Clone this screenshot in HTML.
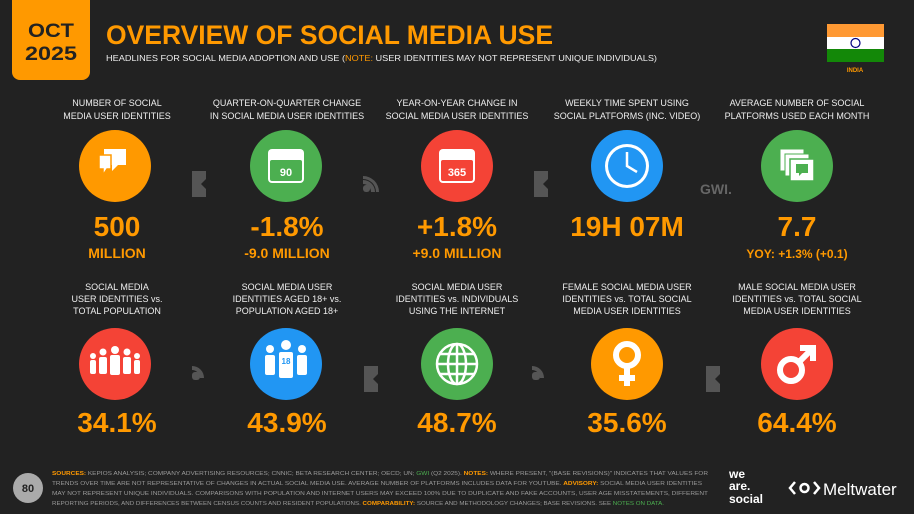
<!DOCTYPE html>
<html><head><meta charset="utf-8"><style>
html,body{margin:0;padding:0;background:#222;}
svg{display:block}
text{font-family:"Liberation Sans",sans-serif;}
</style></head><body>
<svg width="914" height="514" viewBox="0 0 914 514" xmlns="http://www.w3.org/2000/svg">
<rect width="914" height="514" fill="#222"/>
<!-- date box -->
<path d="M12 0 H90 V72 a8 8 0 0 1 -8 8 H20 a8 8 0 0 1 -8 -8 Z" fill="#FF9900"/>
<text x="51" y="37" text-anchor="middle" font-size="19" font-weight="bold" fill="#222" textLength="46" lengthAdjust="spacingAndGlyphs">OCT</text>
<text x="51" y="60" text-anchor="middle" font-size="19" font-weight="bold" fill="#222" textLength="52" lengthAdjust="spacingAndGlyphs">2025</text>
<text x="106" y="44" font-size="27" font-weight="bold" fill="#FF9900" textLength="447" lengthAdjust="spacingAndGlyphs">OVERVIEW OF SOCIAL MEDIA USE</text>
<text x="106" y="61" font-size="8.5" fill="#eee" textLength="551" lengthAdjust="spacingAndGlyphs">HEADLINES FOR SOCIAL MEDIA ADOPTION AND USE (<tspan fill="#FF9900">NOTE:</tspan> USER IDENTITIES MAY NOT REPRESENT UNIQUE INDIVIDUALS)</text>
<!-- flag -->
<rect x="827" y="24" width="57" height="13" fill="#FF9933"/>
<rect x="827" y="37" width="57" height="12" fill="#fff"/>
<rect x="827" y="49" width="57" height="13" fill="#138808"/>
<circle cx="855.5" cy="43" r="4.5" fill="none" stroke="#000080" stroke-width="1.2"/>
<text x="855" y="72" text-anchor="middle" font-size="6" font-weight="bold" fill="#FF9900">INDIA</text>

<g font-size="9" fill="#eee" text-anchor="middle">
<text x="117" y="106">NUMBER OF SOCIAL</text><text x="117" y="119">MEDIA USER IDENTITIES</text>
<text x="287" y="106">QUARTER-ON-QUARTER CHANGE</text><text x="287" y="119">IN SOCIAL MEDIA USER IDENTITIES</text>
<text x="457" y="106">YEAR-ON-YEAR CHANGE IN</text><text x="457" y="119">SOCIAL MEDIA USER IDENTITIES</text>
<text x="627" y="106">WEEKLY TIME SPENT USING</text><text x="627" y="119">SOCIAL PLATFORMS (INC. VIDEO)</text>
<text x="797" y="106">AVERAGE NUMBER OF SOCIAL</text><text x="797" y="119">PLATFORMS USED EACH MONTH</text>

<text x="117" y="290">SOCIAL MEDIA</text><text x="117" y="302">USER IDENTITIES vs.</text><text x="117" y="314">TOTAL POPULATION</text>
<text x="287" y="290">SOCIAL MEDIA USER</text><text x="287" y="302">IDENTITIES AGED 18+ vs.</text><text x="287" y="314">POPULATION AGED 18+</text>
<text x="457" y="290">SOCIAL MEDIA USER</text><text x="457" y="302">IDENTITIES vs. INDIVIDUALS</text><text x="457" y="314">USING THE INTERNET</text>
<text x="627" y="290">FEMALE SOCIAL MEDIA USER</text><text x="627" y="302">IDENTITIES vs. TOTAL SOCIAL</text><text x="627" y="314">MEDIA USER IDENTITIES</text>
<text x="797" y="290">MALE SOCIAL MEDIA USER</text><text x="797" y="302">IDENTITIES vs. TOTAL SOCIAL</text><text x="797" y="314">MEDIA USER IDENTITIES</text>
</g>

<!-- row1 circles -->
<circle cx="115" cy="166" r="36" fill="#FF9900"/>
<path d="M104 149 h22 v16 h-8 l-6 6 v-6 h-8z" fill="#fff"/>
<path d="M99 155 h12 v14 h-4 l-4 6 v-6 h-4z" fill="#fff" stroke="#FF9900" stroke-width="1.5"/>
<circle cx="286" cy="166" r="36" fill="#4CAF50"/>
<rect x="268" y="149" width="36" height="34" rx="4" fill="#fff"/><rect x="270" y="160" width="32" height="21" rx="2" fill="#4CAF50"/>
<text x="286" y="176" text-anchor="middle" font-size="11" font-weight="bold" fill="#fff">90</text>
<circle cx="457" cy="166" r="36" fill="#F44336"/>
<rect x="439" y="149" width="36" height="34" rx="4" fill="#fff"/><rect x="441" y="160" width="32" height="21" rx="2" fill="#F44336"/>
<text x="457" y="176" text-anchor="middle" font-size="11" font-weight="bold" fill="#fff">365</text>
<circle cx="627" cy="166" r="36" fill="#2196F3"/>
<circle cx="627" cy="166" r="22" fill="#fff"/><circle cx="627" cy="166" r="19" fill="#2196F3"/>
<path d="M627 152 V166 L637 172" stroke="#fff" stroke-width="2.5" fill="none"/>
<circle cx="797" cy="166" r="36" fill="#4CAF50"/>
<rect x="780" y="149" width="24" height="22" fill="#fff" stroke="#4CAF50"/><rect x="785" y="154" width="24" height="22" fill="#fff" stroke="#4CAF50"/><rect x="790" y="159" width="24" height="22" fill="#fff" stroke="#4CAF50" stroke-width="1.5"/>
<path d="M796 164 h12 v9 h-6 l-3 3 v-3 h-3z" fill="#4CAF50"/>

<!-- row2 circles -->
<circle cx="115" cy="364" r="36" fill="#F44336"/>
<g fill="#fff"><circle cx="115" cy="350" r="4"/><rect x="110" y="355" width="10" height="20" rx="2"/>
<circle cx="103" cy="352" r="3.5"/><rect x="99" y="357" width="8" height="17" rx="2"/>
<circle cx="127" cy="352" r="3.5"/><rect x="123" y="357" width="8" height="17" rx="2"/>
<circle cx="93" cy="356" r="3"/><rect x="90" y="360" width="6" height="14" rx="2"/>
<circle cx="137" cy="356" r="3"/><rect x="134" y="360" width="6" height="14" rx="2"/></g>
<circle cx="286" cy="364" r="36" fill="#2196F3"/>
<g fill="#fff"><circle cx="286" cy="345" r="5"/><rect x="279" y="352" width="14" height="26" rx="2"/>
<circle cx="270" cy="349" r="4"/><rect x="265" y="355" width="10" height="20" rx="2"/>
<circle cx="302" cy="349" r="4"/><rect x="297" y="355" width="10" height="20" rx="2"/></g>
<text x="286" y="364" text-anchor="middle" font-size="8" font-weight="bold" fill="#2196F3">18</text>
<circle cx="457" cy="364" r="36" fill="#4CAF50"/>
<g fill="none" stroke="#fff" stroke-width="2.5"><circle cx="457" cy="364" r="20"/><ellipse cx="457" cy="364" rx="9" ry="20"/><path d="M437 364h40M440 354h34M440 374h34M457 344v40"/></g>
<circle cx="627" cy="364" r="36" fill="#FF9900"/>
<g fill="none" stroke="#fff" stroke-width="6"><circle cx="627" cy="355" r="11"/><path d="M627 366v20M619 378h16"/></g>
<circle cx="797" cy="364" r="36" fill="#F44336"/>
<g fill="none" stroke="#fff" stroke-width="6"><circle cx="791" cy="370" r="11"/><path d="M799 362l12-12M800 348h13v13"/></g>

<!-- separators -->
<g fill="#555">
<path d="M192 171h14v8l-5 5 5 5v8h-14z"/><path d="M363 180a12 12 0 0 1 12 12h-4a8 8 0 0 0 -8-8z M363 176a16 16 0 0 1 16 16h-3a13 13 0 0 0 -13-13z"/><rect x="363" y="185" width="7" height="7" rx="3"/>
<path d="M534 171h14v8l-5 5 5 5v8h-14z"/>
<text x="716" y="194" text-anchor="middle" font-size="14" font-weight="bold" fill="#666">GWI.</text>
<path d="M192 366a12 12 0 0 1 12 12h-4a8 8 0 0 0 -8-8z"/><rect x="192" y="372" width="8" height="8" rx="3"/>
<path d="M364 366h14v8l-5 5 5 5v8h-14z"/>
<path d="M532 366a12 12 0 0 1 12 12h-4a8 8 0 0 0 -8-8z"/><rect x="532" y="372" width="8" height="8" rx="3"/>
<path d="M706 366h14v8l-5 5 5 5v8h-14z"/>
</g>

<!-- numbers -->
<g font-weight="bold" fill="#FF9900" text-anchor="middle">
<text x="117" y="236" font-size="28">500</text><text x="117" y="258" font-size="14">MILLION</text>
<text x="287" y="236" font-size="28">-1.8%</text><text x="287" y="258" font-size="14">-9.0 MILLION</text>
<text x="457" y="236" font-size="28">+1.8%</text><text x="457" y="258" font-size="14">+9.0 MILLION</text>
<text x="627" y="236" font-size="28">19H 07M</text>
<text x="797" y="236" font-size="28">7.7</text><text x="797" y="258" font-size="12">YOY: +1.3% (+0.1)</text>
<text x="117" y="432" font-size="28">34.1%</text>
<text x="287" y="432" font-size="28">43.9%</text>
<text x="457" y="432" font-size="28">48.7%</text>
<text x="627" y="432" font-size="28">35.6%</text>
<text x="797" y="432" font-size="28">64.4%</text>
</g>

<!-- footer -->
<circle cx="28" cy="488" r="15" fill="#aaa"/>
<text x="28" y="492" text-anchor="middle" font-size="11" font-weight="bold" fill="#222">80</text>
<g font-size="5.8" fill="#999">
<text x="52" y="475" textLength="656" lengthAdjust="spacingAndGlyphs"><tspan fill="#FF9900" font-weight="bold">SOURCES:</tspan> KEPIOS ANALYSIS; COMPANY ADVERTISING RESOURCES; CNNIC; BETA RESEARCH CENTER; OECD; UN; <tspan fill="#4CAF50">GWI</tspan> (Q2 2025). <tspan fill="#FF9900" font-weight="bold">NOTES:</tspan> WHERE PRESENT, "(BASE REVISIONS)" INDICATES THAT VALUES FOR</text>
<text x="52" y="485" textLength="650" lengthAdjust="spacingAndGlyphs">TRENDS OVER TIME ARE NOT REPRESENTATIVE OF CHANGES IN ACTUAL SOCIAL MEDIA USE. AVERAGE NUMBER OF PLATFORMS INCLUDES DATA FOR YOUTUBE. <tspan fill="#FF9900" font-weight="bold">ADVISORY:</tspan> SOCIAL MEDIA USER IDENTITIES</text>
<text x="52" y="495" textLength="656" lengthAdjust="spacingAndGlyphs">MAY NOT REPRESENT UNIQUE INDIVIDUALS. COMPARISONS WITH POPULATION AND INTERNET USERS MAY EXCEED 100% DUE TO DUPLICATE AND FAKE ACCOUNTS, USER AGE MISSTATEMENTS, DIFFERENT</text>
<text x="52" y="505" textLength="612" lengthAdjust="spacingAndGlyphs">REPORTING PERIODS, AND DIFFERENCES BETWEEN CENSUS COUNTS AND RESIDENT POPULATIONS. <tspan fill="#FF9900" font-weight="bold">COMPARABILITY:</tspan> SOURCE AND METHODOLOGY CHANGES; BASE REVISIONS. SEE <tspan fill="#4CAF50">NOTES ON DATA.</tspan></text>
</g>
<g font-weight="bold" fill="#fff" font-size="12">
<text x="729" y="478">we</text><text x="729" y="490">are.</text><text x="729" y="503">social</text>
</g>
<g fill="none" stroke="#fff" stroke-width="2.5"><path d="M795 482l-5 6 5 6M814 482l5 6-5 6"/><circle cx="804.5" cy="488" r="4"/></g>
<text x="823" y="495" font-size="17" fill="#fff">Meltwater</text>
</svg>
</body></html>
